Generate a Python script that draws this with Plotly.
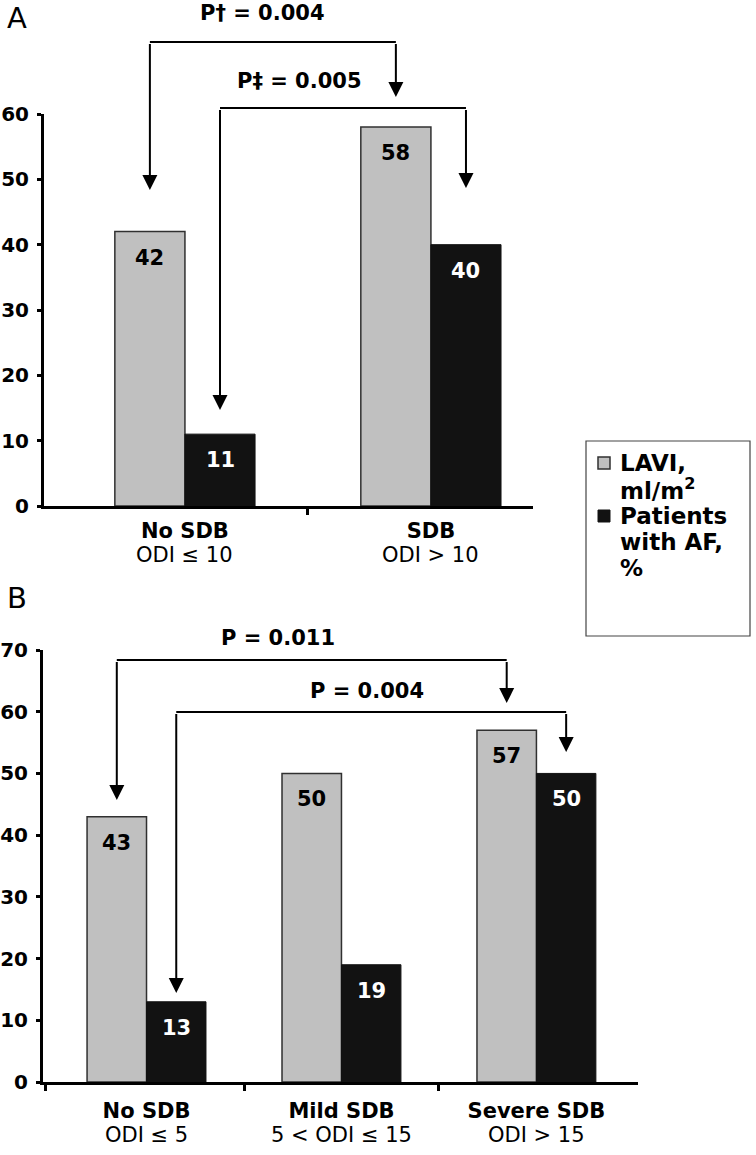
import plotly.graph_objects as go

W, H = 756, 1155

# ---------------- data ----------------
series_names = ["LAVI, ml/m²", "Patients with AF, %"]

a_groups = ["No SDB", "SDB"]
a_subtitles = ["ODI ≤ 10", "ODI > 10"]
a_lavi = [42, 58]
a_af = [11, 40]
a_yticks = [0, 10, 20, 30, 40, 50, 60]
a_pvalues = ["P† = 0.004", "P‡ = 0.005"]

b_groups = ["No SDB", "Mild SDB", "Severe SDB"]
b_subtitles = ["ODI ≤ 5", "5 < ODI ≤ 15", "ODI > 15"]
b_lavi = [43, 50, 57]
b_af = [13, 19, 50]
b_yticks = [0, 10, 20, 30, 40, 50, 60, 70]
b_pvalues = ["P = 0.011", "P = 0.004"]

# ---------------- style ----------------
FONT = "DejaVu Sans"
GRAY = "#c0c0c0"
BLACK = "#121212"
EDGE = "#303030"


def px(x):
    return x / W


def py(y):
    return 1 - y / H


def bold(size, color="black"):
    return dict(family=FONT, size=size, color=color, weight="bold")


fig = go.Figure()

panels = [
    dict(xa="x", ya="y", groups=a_groups, subs=a_subtitles, lavi=a_lavi, af=a_af,
         width=0.285, yticks=a_yticks, sub_y=555),
    dict(xa="x2", ya="y2", groups=b_groups, subs=b_subtitles, lavi=b_lavi, af=b_af,
         width=0.305, yticks=b_yticks, sub_y=1135),
]

annotations = []
shapes = []

for p in panels:
    xs = list(range(len(p["groups"])))
    w = p["width"]
    fig.add_trace(go.Bar(x=xs, y=p["lavi"], width=w, offset=-w, name=series_names[0],
                         marker=dict(color=GRAY, line=dict(color=EDGE, width=1.5)),
                         xaxis=p["xa"], yaxis=p["ya"], showlegend=False))
    fig.add_trace(go.Bar(x=xs, y=p["af"], width=w, offset=0, name=series_names[1],
                         marker=dict(color=BLACK, line=dict(color=BLACK, width=1)),
                         xaxis=p["xa"], yaxis=p["ya"], showlegend=False))
    for i in xs:
        annotations.append(dict(x=i - w / 2, y=p["lavi"][i], xref=p["xa"], yref=p["ya"],
                                text=str(p["lavi"][i]), showarrow=False, yshift=-26,
                                xanchor="center", yanchor="middle", font=bold(21)))
        annotations.append(dict(x=i + w / 2, y=p["af"][i], xref=p["xa"], yref=p["ya"],
                                text=str(p["af"][i]), showarrow=False, yshift=-26,
                                xanchor="center", yanchor="middle", font=bold(21, "white")))
        # second line of the category label
        annotations.append(dict(x=i, y=py(p["sub_y"]), xref=p["xa"], yref="paper",
                                text=p["subs"][i], showarrow=False,
                                xanchor="center", yanchor="middle",
                                font=dict(family=FONT, size=21, color="black")))


def bracket(xref, x_left, x_right, top, tip_left, tip_right, label, lx, ly):
    shapes.append(dict(type="line", xref=xref, yref="paper", x0=x_left, x1=x_right,
                       y0=py(top), y1=py(top), line=dict(color="black", width=2)))
    for xx, tip in ((x_left, tip_left), (x_right, tip_right)):
        annotations.append(dict(x=xx, y=py(tip), xref=xref, yref="paper", text=" ",
                                showarrow=True, ax=0, ay=-(tip - top), axref="pixel",
                                ayref="pixel", arrowhead=2, arrowsize=1.5, arrowwidth=2,
                                arrowcolor="black", standoff=0, startstandoff=0,
                                font=dict(size=1)))
    annotations.append(dict(x=px(lx), y=py(ly), xref="paper", yref="paper", text=label,
                            showarrow=False, xanchor="center", yanchor="middle",
                            font=bold(21)))


wa = panels[0]["width"]
wb = panels[1]["width"]
# Panel A comparisons: LAVI group0 vs group1, AF group0 vs group1
bracket("x", 0 - wa / 2, 1 - wa / 2, 42, 190, 97, a_pvalues[0], 262, 13)
bracket("x", 0 + wa / 2, 1 + wa / 2, 108, 410, 188, a_pvalues[1], 299, 81)
# Panel B comparisons: group0 vs group2
bracket("x2", 0 - wb / 2, 2 - wb / 2, 660, 800, 703, b_pvalues[0], 278, 638)
bracket("x2", 0 + wb / 2, 2 + wb / 2, 712, 993, 752, b_pvalues[1], 367, 691)

# panel letters
for letter, yy in (("A", 18), ("B", 598)):
    annotations.append(dict(x=px(5), y=py(yy), xref="paper", yref="paper", text=letter,
                            showarrow=False, xanchor="left", yanchor="middle",
                            font=dict(family=FONT, size=29, color="black")))

# legend (custom box)
shapes.append(dict(type="rect", xref="paper", yref="paper", x0=px(586), x1=px(750),
                   y0=py(441), y1=py(636), line=dict(color="#444", width=1.2)))
shapes.append(dict(type="rect", xref="paper", yref="paper", x0=px(598), x1=px(610),
                   y0=py(457), y1=py(469), fillcolor=GRAY, line=dict(color=EDGE, width=1.5)))
shapes.append(dict(type="rect", xref="paper", yref="paper", x0=px(598), x1=px(610),
                   y0=py(510), y1=py(522), fillcolor=BLACK, line=dict(color=BLACK, width=1)))
leg_lines = [("LAVI,", 463), ("ml/m<sup>2</sup>", 489), ("Patients", 516),
             ("with AF,", 542), ("%", 568)]
for t, yy in leg_lines:
    annotations.append(dict(x=px(618), y=py(yy), xref="paper", yref="paper", text=t,
                            showarrow=False, xanchor="left", yanchor="middle",
                            font=bold(23)))


def xaxis_cfg(domain, rng, groups, minor_vals, standoff):
    return dict(domain=domain, range=rng, showline=True, linewidth=3, linecolor="black",
                tickmode="array", tickvals=list(range(len(groups))),
                ticktext=groups, ticks="", tickfont=bold(21),
                minor=dict(tickmode="array", tickvals=minor_vals, ticks="outside",
                           ticklen=6, tickwidth=3, tickcolor="black", showgrid=False),
                showgrid=False, zeroline=False, fixedrange=True,
                ticklabelstandoff=standoff, automargin=False)


def yaxis_cfg(domain, rng, ticks, anchor):
    return dict(domain=domain, range=rng, anchor=anchor, showline=True, linewidth=3,
                linecolor="black", tickmode="array", tickvals=ticks, ticks="outside",
                ticklen=4, tickwidth=3, tickcolor="black", tickfont=bold(20),
                showgrid=False, zeroline=False, fixedrange=True, ticklabelstandoff=4,
                automargin=False)


fig.update_layout(
    width=W, height=H, margin=dict(l=0, r=0, t=0, b=0, pad=0, autoexpand=False),
    paper_bgcolor="white", plot_bgcolor="white",
    barmode="overlay", showlegend=False,
    xaxis=xaxis_cfg([px(44), px(533)], [-0.573, 1.415], a_groups, [0.5], 4),
    yaxis=yaxis_cfg([py(506), py(114)], [0, 60], a_yticks, "x"),
    xaxis2=xaxis_cfg([px(43), px(638)], [-0.531, 2.521], b_groups, [-0.52, 0.5, 1.5], 8),
    yaxis2=yaxis_cfg([py(1082), py(650)], [0, 70], b_yticks, "x2"),
    annotations=annotations, shapes=shapes,
)
fig.update_layout(xaxis=dict(anchor="y"), xaxis2=dict(anchor="y2"))

fig.write_html(
    "out.html",
    config={"displayModeBar": False},
    post_script="document.body.style.margin='0';document.body.style.overflow='hidden';",
)
